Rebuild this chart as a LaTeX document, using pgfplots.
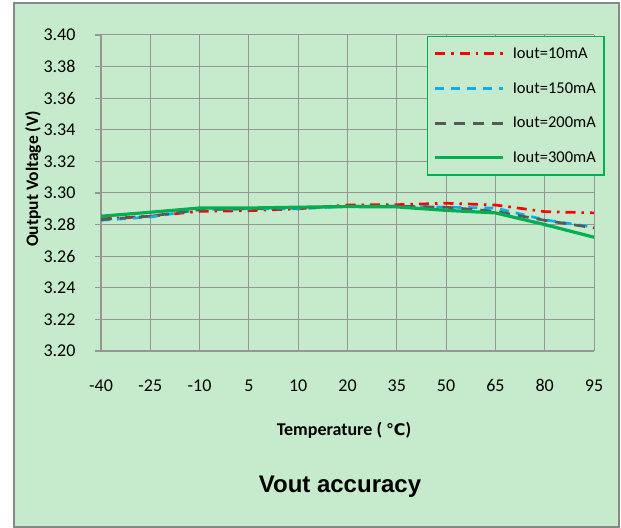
\documentclass[border=0pt]{standalone}
\usepackage{pgfplots}
\pgfplotsset{compat=1.18}
\usepackage{fontspec}
\setmainfont{Carlito}
\newfontfamily\arialfont{Liberation Sans}
\newfontfamily\dejavu{DejaVu Sans}
\definecolor{bgc}{RGB}{198,235,204}
\definecolor{gridc}{RGB}{150,150,150}
\definecolor{framec}{RGB}{136,136,136}
\definecolor{cred}{RGB}{255,0,0}
\definecolor{cblue}{RGB}{0,176,240}
\definecolor{cgray}{RGB}{89,89,89}
\definecolor{cgreen}{RGB}{0,176,80}
\begin{document}
\begin{tikzpicture}[x=1bp,y=1bp]
\fill[white] (0,0) rectangle (621,528);
\fill[bgc] (14,1) rectangle (619,525);
\draw[framec,line width=1.2bp] (14,1) rectangle (619,525);
\begin{axis}[
  at={(101bp,177bp)}, anchor=south west,
  scale only axis, width=493bp, height=316bp,
  xmin=0, xmax=10, ymin=3.2, ymax=3.4,
  xtick={0,1,2,3,4,5,6,7,8,9,10},
  xticklabels={-40,-25,-10,5,10,20,35,50,65,80,95},
  ytick={3.20,3.22,3.24,3.26,3.28,3.30,3.32,3.34,3.36,3.38,3.40},
  /pgf/number format/fixed,
  /pgf/number format/fixed zerofill,
  /pgf/number format/precision=2,
  /pgf/number format/assume math mode=true,
  xticklabel style={yshift=-19bp},
  yticklabel style={xshift=-16bp},
  ticklabel style={font=\fontsize{18bp}{21bp}\selectfont, text=black},
  axis x line*=bottom, axis y line*=left,
  axis line style={gridc, line width=1.2bp},
  tick align=outside, major tick length=6bp,
  tick style={gridc, line width=1.2bp},
  xtick style={draw=none},
  grid=major, grid style={gridc, line width=1bp},
  axis background/.style={fill=bgc},
  legend style={at={(0.661,0.997)}, anchor=north west, fill=bgc, draw=cgreen, line width=1.5bp,
    inner xsep=6bp, inner ysep=9bp, row sep=18.5bp,
    font=\fontsize{16.5bp}{19bp}\selectfont, text=black},
  legend cell align=left,
  legend image code/.code={\draw[#1] (0bp,0bp) -- (68bp,0bp); \path (74bp,0bp);},
]
\addplot[cred, line width=2.7bp, dash pattern=on 10bp off 6bp on 2.5bp off 6bp] coordinates {
(0,3.2836) (1,3.2853) (2,3.2884) (3,3.2888) (4,3.2900) (5,3.2924) (6,3.2926) (7,3.2935) (8,3.2924) (9,3.2882) (10,3.2874)};
\addlegendentry{Iout=10mA}
\addplot[cblue, line width=2.7bp, dash pattern=on 9bp off 7bp] coordinates {
(0,3.2827) (1,3.2848) (2,3.2895) (3,3.2900) (4,3.2900) (5,3.2916) (6,3.2916) (7,3.2910) (8,3.2905) (9,3.2830) (10,3.2783)};
\addlegendentry{Iout=150mA}
\addplot[cgray, line width=2.7bp, dash pattern=on 11bp off 8bp] coordinates {
(0,3.2832) (1,3.2853) (2,3.2895) (3,3.2900) (4,3.2905) (5,3.2916) (6,3.2916) (7,3.2910) (8,3.2884) (9,3.2827) (10,3.2779)};
\addlegendentry{Iout=200mA}
\addplot[cgreen, line width=3.2bp] coordinates {
(0,3.2853) (1,3.2878) (2,3.2905) (3,3.2905) (4,3.2910) (5,3.2914) (6,3.2912) (7,3.2890) (8,3.2874) (9,3.2800) (10,3.2720)};
\addlegendentry{Iout=300mA}
\end{axis}
\node[rotate=90, font=\fontsize{17.5bp}{20bp}\selectfont\bfseries] at (33,349) {Output Voltage (V)};
\node[font=\fontsize{18bp}{21bp}\selectfont\bfseries] at (344,98) {Temperature ( {\dejavu\fontsize{16bp}{19bp}\selectfont ℃})};
\node[font=\arialfont\fontsize{24bp}{28bp}\selectfont\bfseries] at (340,41) {Vout accuracy};
\pgfresetboundingbox
\path (0,0) rectangle (621,528);
\end{tikzpicture}
\end{document}
